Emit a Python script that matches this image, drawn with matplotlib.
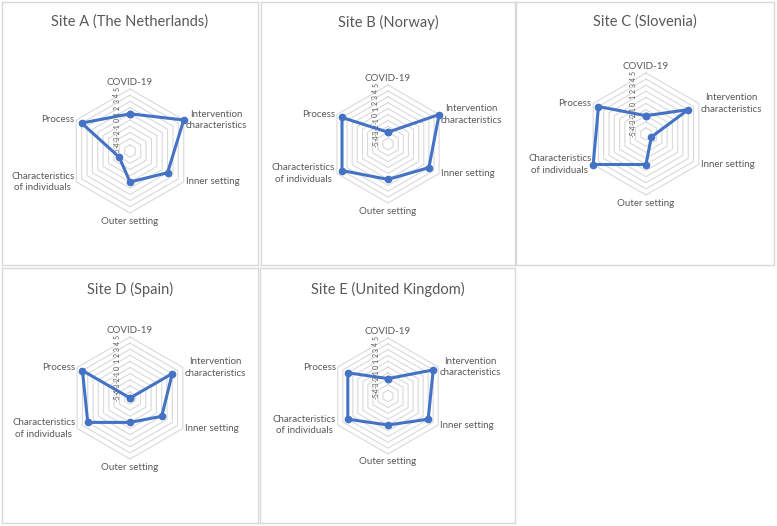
import numpy as np
import matplotlib
matplotlib.use("Agg")
import matplotlib.pyplot as plt

plt.rcParams['font.family'] = ['Lato', 'DejaVu Sans']

# categories (clockwise from top) and scores per site
categories = ['COVID-19', 'Intervention\ncharacteristics', 'Inner setting',
              'Outer setting', 'Characteristics\nof individuals', 'Process']
titles = ['Site A (The Netherlands)', 'Site B (Norway)', 'Site C (Slovenia)',
          'Site D (Spain)', 'Site E (United Kingdom)']
site_a = [1, 5, 2, 0, -3, 4]
site_b = [-3, 5, 3, 1, 4, 4]
site_c = [-2, 3, -4, 0, 5, 4]
site_d = [-5, 3, 1, -1, 3, 4]
site_e = [-2, 4, 3, 0, 3, 3]
ticks = [5, 4, 3, 2, 1, 0, -1, -2, -3, -4, -5]
vmin, vmax = -5, 5

# layout in pixels: panel box (x0, y0, x1, y1), chart centre and radius
panels = [(2, 2, 258, 265), (261, 2, 515, 265), (516, 2, 774, 265),
          (2, 268, 258, 523), (260, 268, 515, 523)]
centres = [(130, 151, 62), (388, 144, 59), (646, 134, 61),
           (130, 398, 61), (388, 396, 58)]
title_y = [22, 22, 22, 289, 289]

W, H = 777, 526
TXT = '#595959'
GRID = '#D9D9D9'
BLUE = '#4472C4'

fig = plt.figure(figsize=(W / 100, H / 100), dpi=100)

n = len(categories)
ang = np.arange(n) * 2 * np.pi / n


def to_xy(vals):
    r = np.asarray(vals, dtype=float) - vmin
    return r * np.sin(ang), r * np.cos(ang)


def radar(ax, vals):
    span = vmax - vmin
    # hexagonal grid rings
    for k in range(1, span + 1):
        gx, gy = to_xy([vmin + k] * n)
        ax.plot(np.append(gx, gx[0]), np.append(gy, gy[0]), color=GRID, lw=0.8, zorder=1)
    # category labels
    vx, vy = to_xy([vmax] * n)
    for i, lab in enumerate(categories):
        x, y = vx[i], vy[i]
        if abs(x) < 1e-6:
            if y > 0:
                ax.text(x, y + 0.4, lab, ha='center', va='bottom', fontsize=7, color=TXT)
            else:
                ax.text(x, y - 0.6, lab, ha='center', va='top', fontsize=7, color=TXT)
        elif x > 0:
            ax.text(x + 0.3, y, lab, ha='left', va='center', fontsize=7,
                    color=TXT, multialignment='center', linespacing=1.3)
        else:
            ax.text(x - 0.3, y, lab, ha='right', va='center', fontsize=7,
                    color=TXT, multialignment='center', linespacing=1.3)
    # value ticks along the first axis
    for t in ticks:
        ax.text(-2.1, t - vmin, str(t), rotation=90, ha='center', va='center',
                fontsize=5, color=TXT)
    # data line
    x, y = to_xy(vals)
    ax.plot(np.append(x, x[0]), np.append(y, y[0]), color=BLUE, lw=2.2,
            marker='o', ms=4.5, zorder=3, solid_joinstyle='miter')


series = [site_a, site_b, site_c, site_d, site_e]
for (x0, y0, x1, y1), (cx, cy, R), title, ty, vals in zip(panels, centres, titles, title_y, series):
    ax = fig.add_axes([x0 / W, 1 - y1 / H, (x1 - x0) / W, (y1 - y0) / H])
    s = (vmax - vmin) / R
    ax.set_xlim((x0 - cx) * s, (x1 - cx) * s)
    ax.set_ylim((cy - y1) * s, (cy - y0) * s)
    ax.set_xticks([])
    ax.set_yticks([])
    for sp in ax.spines.values():
        sp.set_color(GRID)
        sp.set_linewidth(1.0)
    ax.text(0.5, 1 - (ty - y0) / (y1 - y0), title, transform=ax.transAxes,
            ha='center', va='center', fontsize=10.5, color=TXT)
    radar(ax, vals)

fig.savefig('out.png', dpi=100)
